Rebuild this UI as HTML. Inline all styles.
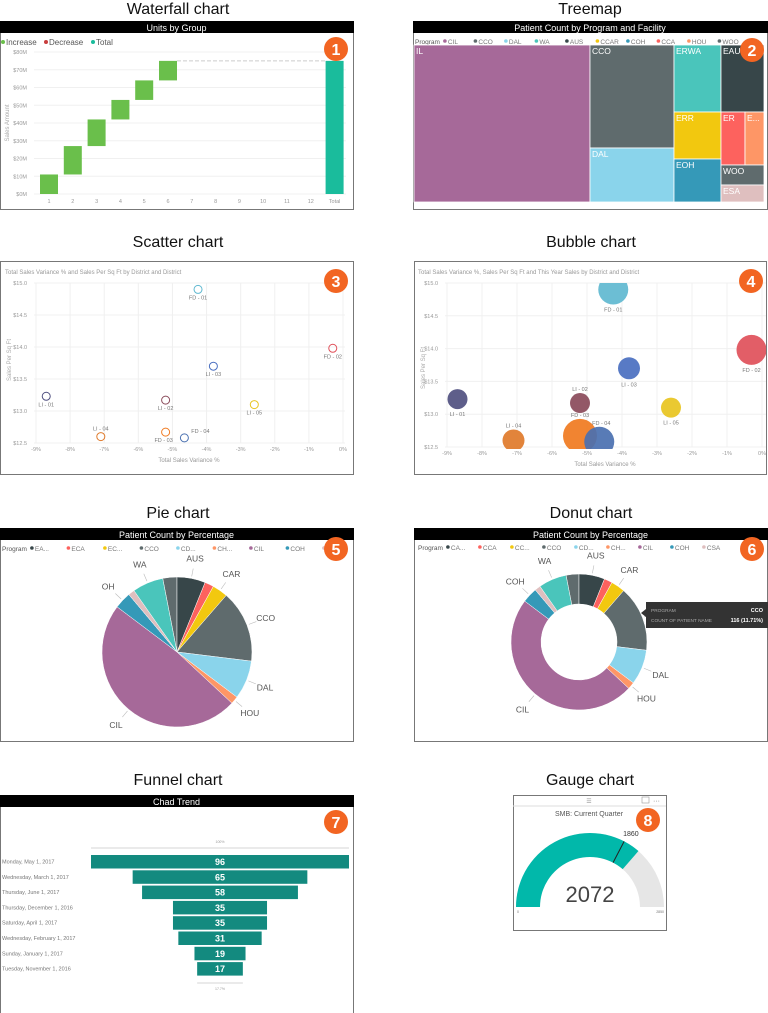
<!DOCTYPE html>
<html><head><meta charset="utf-8"><style>
html,body{margin:0;padding:0;background:#fff;}
svg{display:block;font-family:"Liberation Sans","DejaVu Sans",sans-serif;}
</style></head><body>
<svg id="root" width="768" height="1013" viewBox="0 0 768 1013" xmlns="http://www.w3.org/2000/svg">
<defs>
<clipPath id="bubClip"><rect x="414" y="283" width="352" height="166"/></clipPath>
</defs>
</svg>
<script>
// ---------- data ----------
const wfCats = ['1','2','3','4','5','6','7','8','9','10','11','12','Total'];
const wfDeltas = [11,16,15,11,11,11,0,0,0,0,0,0];
const wfTicks = [0,10,20,30,40,50,60,70,80];

const tmNames = ['IL','CCO','DAL','ERWA','ERR','EOH','EAU','ER','E...','WOO','ESA'];
const tmValues = [27632,8652,4536,3149,2209,2021,2881,1272,1007,860,731];
const tmColumn = [0,1,1,2,2,2,3,3,3,3,3];
const tmRow = [0,0,1,0,1,2,0,1,1,2,3];
const tmColors = ['#a66999','#5f6b6d','#8ad4eb','#4ac5bb','#f2c80f','#3599b8','#374649','#fd625e','#fe9666','#5f6b6d','#dfbfbf'];
const tmLegend = ['CIL','CCO','DAL','WA','AUS','CCAR','COH','CCA','HOU','WOO','C..'];
const tmLegendColors = ['#a66999','#5f6b6d','#8ad4eb','#4ac5bb','#374649','#f2c80f','#3599b8','#fd625e','#fe9666','#5f6b6d','#dfbfbf'];

const scNames = ['FD - 01','FD - 02','LI - 03','LI - 01','LI - 02','LI - 05','LI - 04','FD - 03','FD - 04'];
const scVariance = [-4.25,-0.3,-3.8,-8.7,-5.2,-2.6,-7.1,-5.2,-4.65];
const scSales = [14.9,13.98,13.7,13.23,13.17,13.1,12.6,12.67,12.58];
const scColors = ['#5fb8d0','#e0505a','#4a6fc0','#505080','#8a4a5a','#e8c420','#e07a2a','#f07a20','#4a70b0'];
const bubSize = [225,225,121,100,100,100,121,289,225];
const xTicks = [-9,-8,-7,-6,-5,-4,-3,-2,-1,0];
const yTicks = [12.5,13.0,13.5,14.0,14.5,15.0];

const pieNames = ['', 'AUS','','CAR','CCO','DAL','HOU','CIL','OH','','WA'];
const pieValues = [11,22,7,12,56,30,6,174,13,5,24];
const pieColors = ['#5f6b6d','#374649','#fd625e','#f2c80f','#5f6b6d','#8ad4eb','#fe9666','#a66999','#3599b8','#dfbfbf','#4ac5bb'];
const pieLegend = ['EA...','ECA','EC...','CCO','CD...','CH...','CIL','COH','CS...'];
const donutLegend = ['CA...','CCA','CC...','CCO','CD...','CH...','CIL','COH','CSA'];
const legendColors = ['#374649','#fd625e','#f2c80f','#5f6b6d','#8ad4eb','#fe9666','#a66999','#3599b8','#dfbfbf'];

const fnLabels = ['Monday, May 1, 2017','Wednesday, March 1, 2017','Thursday, June 1, 2017','Thursday, December 1, 2016','Saturday, April 1, 2017','Wednesday, February 1, 2017','Sunday, January 1, 2017','Tuesday, November 1, 2016'];
const fnValues = [96,65,58,35,35,31,19,17];

const gaugeValue = 2072;
const gaugeTarget = 1860;
const gaugeMax = 2850;

// ---------- helpers ----------
const NS='http://www.w3.org/2000/svg';
const root=document.getElementById('root');
function el(tag,attrs,parent,txt){const e=document.createElementNS(NS,tag);for(const k in attrs)e.setAttribute(k,attrs[k]);if(txt!==undefined)e.textContent=txt;(parent||root).appendChild(e);return e;}
function grp(name){const g=el('g',{});

return g;}

// section titles
const titles=[['Waterfall chart',178,14],['Treemap',590,14],['Scatter chart',178,247],['Bubble chart',591,247],['Pie chart',178,518],['Donut chart',591,518],['Funnel chart',178,785],['Gauge chart',590,785]];
titles.forEach(t=>{const e=el('text',{x:t[1],y:t[2],'font-size':16,'text-anchor':'middle',fill:'#111'},null,t[0]);

});

function panel(g,x,y,w,h,header){const r=el('rect',{x:x+0.5,y:y+0.5,width:w,height:h,fill:'#fff',stroke:'#777'},g);


if(header){const b=el('rect',{x:x,y:y,width:w+1,height:12,fill:'#000'},g);


const t=el('text',{x:x+w/2,y:y+10,'font-size':9,'text-anchor':'middle',fill:'#fff'},g,header);

}}
function badge(g,n,cx,cy){const c=el('circle',{cx:cx,cy:cy,r:12,fill:'#f26522'},g);


const t=el('text',{x:cx,y:cy+6,'font-size':16,'font-weight':'bold','text-anchor':'middle',fill:'#fff'},g,String(n));

}
function legend(g,x,y,items,colors,step,prefix){if(prefix){const p=el('text',{x:x,y:y+3,'font-size':6.5,fill:'#555'},g,prefix);

x+=prefix.length*3.7+4;}
items.forEach((it,i)=>{const cx=x+i*step;const c=el('circle',{cx:cx,cy:y,r:1.8,fill:colors[i]},g);


const t=el('text',{x:cx+3,y:y+3,'font-size':6.5,fill:'#777'},g,it);

});}

// ---------- 1 Waterfall ----------
(function(){const g=grp('waterfall-chart');panel(g,0,21,353,188,'Units by Group');
[['Increase','#6abf4b'],['Decrease','#c83d3d'],['Total','#1abc9c']].forEach((l,i)=>{const xs=[3,46,93][i];
const c=el('circle',{cx:xs,cy:42,r:2,fill:l[1]},g);


const t=el('text',{x:xs+3,y:45,'font-size':8,fill:'#555'},g,l[0]);

});
const y=v=>194-v*1.775, x=i=>49+i*23.8;
wfTicks.forEach(v=>{const ln=el('line',{x1:34,x2:346,y1:y(v),y2:y(v),stroke:'#f0f0f0'},g);


const t=el('text',{x:27,y:y(v)+2,'font-size':5.5,'text-anchor':'end',fill:'#999'},g,'$'+v+'M');

});
const yt=el('text',{x:9,y:123,'font-size':6,'text-anchor':'middle',fill:'#aaa',transform:'rotate(-90 9 123)'},g,'Sales Amount');


let cum=0;wfDeltas.forEach((d,i)=>{if(d>0){const b=el('rect',{x:x(i)-9,y:y(cum+d),width:18,height:y(cum)-y(cum+d),fill:'#6abf4b'},g);

}cum+=d;});
const dl=el('line',{x1:x(5)+9,x2:x(12)-9,y1:y(cum),y2:y(cum),stroke:'#ccc','stroke-dasharray':'4 2'},g);


const tb=el('rect',{x:x(12)-9,y:y(cum),width:18,height:y(0)-y(cum),fill:'#1abc9c'},g);


wfCats.forEach((c,i)=>{const t=el('text',{x:x(i),y:203,'font-size':5.5,'text-anchor':'middle',fill:'#999'},g,c);

});
badge(g,1,336,49);})();

// ---------- 2 Treemap ----------
(function(){const g=grp('treemap-chart');panel(g,413,21,354,188,'Patient Count by Program and Facility');
legend(g,415,41,tmLegend,tmLegendColors,30.5,'Program');
const X0=414,Y0=45,W=350,H=157;const total=tmValues.reduce((a,b)=>a+b,0);
const colSum=[0,0,0,0];tmValues.forEach((v,i)=>colSum[tmColumn[i]]+=v);
let cx=X0;const colX=[],colW=[];colSum.forEach((s,c)=>{colX[c]=cx;colW[c]=W*s/total;cx+=colW[c];});
// row sums per column
const rows={};tmValues.forEach((v,i)=>{const k=tmColumn[i]+'_'+tmRow[i];rows[k]=(rows[k]||0)+v;});
const rowY={};colSum.forEach((s,c)=>{let yy=Y0;for(let r=0;r<6;r++){const k=c+'_'+r;if(rows[k]){rowY[k]=[yy,H*rows[k]/s];yy+=H*rows[k]/s;}}});
const rowX={};
tmValues.forEach((v,i)=>{const c=tmColumn[i],k=c+'_'+tmRow[i];const [ry,rh]=rowY[k];
const ox=rowX[k]||0;const w=colW[c]*v/rows[k];rowX[k]=ox+w;
const r=el('rect',{x:colX[c]+ox,y:ry,width:w,height:rh,fill:tmColors[i],stroke:'#fff','stroke-width':0.8},g);


const t=el('text',{x:colX[c]+ox+2,y:ry+9,'font-size':8.5,fill:'#fff'},g,tmNames[i]);

});
badge(g,2,752,50);})();

// ---------- 3 Scatter & 4 Bubble ----------
function axes(g,sx,sy,x0,x1,y0,y1,lblX){xTicks.forEach(v=>{const l=el('line',{x1:sx(v),x2:sx(v),y1:y0,y2:y1,stroke:'#f0f0f0'},g);


const t=el('text',{x:sx(v),y:y1+8,'font-size':5.5,'text-anchor':'middle',fill:'#999'},g,v+'%');

});
yTicks.forEach(v=>{const l=el('line',{x1:x0,x2:x1,y1:sy(v),y2:sy(v),stroke:'#f0f0f0'},g);


const t=el('text',{x:lblX,y:sy(v)+2,'font-size':5.5,'text-anchor':'end',fill:'#999'},g,'$'+v.toFixed(1));

});}
(function(){const g=grp('scatter-chart');panel(g,0,261,353,213);
const tt=el('text',{x:5,y:274,'font-size':6,fill:'#999'},g,'Total Sales Variance % and Sales Per Sq Ft by District and District');


const sx=v=>36+(v+9)/9*307, sy=v=>443-(v-12.5)/2.5*160;
axes(g,sx,sy,34,345,283,443,27);
const xt=el('text',{x:189,y:462,'font-size':6,'text-anchor':'middle',fill:'#999'},g,'Total Sales Variance %');


const yt=el('text',{x:11,y:360,'font-size':6,'text-anchor':'middle',fill:'#aaa',transform:'rotate(-90 11 360)'},g,'Sales Per Sq Ft');


const off=[[0,10],[0,10],[0,10],[0,10],[0,10],[0,10],[0,-6],[-2,10],[16,-5]];
scNames.forEach((n,i)=>{const c=el('circle',{cx:sx(scVariance[i]),cy:sy(scSales[i]),r:4,fill:'none',stroke:scColors[i],'stroke-width':1},g);


const t=el('text',{x:sx(scVariance[i])+off[i][0],y:sy(scSales[i])+off[i][1],'font-size':5.5,'text-anchor':'middle',fill:'#777'},g,n);

});
badge(g,3,336,281);})();
(function(){const g=grp('bubble-chart');panel(g,414,261,352,213);
const tt=el('text',{x:418,y:274,'font-size':6,fill:'#999'},g,'Total Sales Variance %, Sales Per Sq Ft and This Year Sales by District and District');


const sx=v=>447+(v+9)/9*315, sy=v=>447-(v-12.5)/2.5*164;
axes(g,sx,sy,445,766,283,447,438);
const xt=el('text',{x:605,y:466,'font-size':6,'text-anchor':'middle',fill:'#999'},g,'Total Sales Variance %');


const yt=el('text',{x:425,y:368,'font-size':6,'text-anchor':'middle',fill:'#aaa',transform:'rotate(-90 425 368)'},g,'Sales Per Sq Ft');


const bg=el('g',{'clip-path':'url(#bubClip)'},g);
scNames.forEach((n,i)=>{const c=el('circle',{cx:sx(scVariance[i]),cy:sy(scSales[i]),r:Math.sqrt(bubSize[i]),fill:scColors[i],'fill-opacity':0.92},bg);

});
const above=[false,false,false,false,true,false,true,true,true];
scNames.forEach((n,i)=>{const r=Math.sqrt(bubSize[i]);const dx=(i===8)?2:0;
const t=el('text',{x:sx(scVariance[i])+dx,y:above[i]?sy(scSales[i])-r-2:sy(scSales[i])+r+7,'font-size':5.5,'text-anchor':'middle',fill:'#777'},g,n);

});
badge(g,4,751,281);})();

// ---------- 5 Pie & 6 Donut ----------
function pieChart(g,cx,cy,R,r0,labels){const tot=pieValues.reduce((a,b)=>a+b,0);let a=-pieValues[0]/tot*360;
const pt=(ang,rr)=>[cx+rr*Math.sin(ang*Math.PI/180),cy-rr*Math.cos(ang*Math.PI/180)];
pieValues.forEach((v,i)=>{const a1=a+v/tot*360;const p0=pt(a,R),p1=pt(a1,R);const big=(a1-a)>180?1:0;let d;
if(r0>0){const q0=pt(a1,r0),q1=pt(a,r0);d=`M${p0}A${R},${R} 0 ${big} 1 ${p1}L${q0}A${r0},${r0} 0 ${big} 0 ${q1}Z`;}
else d=`M${cx},${cy}L${p0}A${R},${R} 0 ${big} 1 ${p1}Z`;
const s=el('path',{d:d,fill:pieColors[i],stroke:'#fff','stroke-width':0.5},g);


if(labels[i]){const m=(a+a1)/2;const l0=pt(m,R+2),l1=pt(m,R+10);const lp=pt(m,R+20);
const ln=el('line',{x1:l0[0],y1:l0[1],x2:l1[0],y2:l1[1],stroke:'#bbb','stroke-width':0.6},g);


const t=el('text',{x:lp[0],y:lp[1]+3,'font-size':8.5,'text-anchor':'middle',fill:'#555'},g,labels[i]);

}
a=a1;});}
(function(){const g=grp('pie-chart');panel(g,0,528,353,213,'Patient Count by Percentage');
legend(g,2,548,pieLegend,legendColors,36.5,'Program');
pieChart(g,177,652,75,0,pieNames);badge(g,5,336,549);})();
(function(){const g=grp('donut-chart');panel(g,414,528,353,213,'Patient Count by Percentage');
legend(g,418,547,donutLegend,legendColors,32,'Program');
const dn=pieNames.slice();dn[8]='COH';
pieChart(g,579,642,68,38,dn);
const tip=el('rect',{x:646,y:602,width:122,height:26,fill:'#333'},g);


const tp=el('polygon',{points:'646,609 641,613 646,617',fill:'#333'},g);


[['PROGRAM','CCO',612],['COUNT OF PATIENT NAME','116 (11.71%)',622]].forEach(r=>{const a=el('text',{x:651,y:r[2],'font-size':4.8,fill:'#aaa'},g,r[0]);


const b=el('text',{x:763,y:r[2],'font-size':5.5,'font-weight':'bold','text-anchor':'end',fill:'#fff'},g,r[1]);

});
badge(g,6,752,549);})();

// ---------- 7 Funnel ----------
(function(){const g=grp('funnel-chart');panel(g,0,795,353,218,'Chad Trend');
const maxW=258,cx=220,w=v=>v/fnValues[0]*maxW,ry=i=>855+i*15.3;
const tl=el('line',{x1:cx-maxW/2,x2:cx+maxW/2,y1:848,y2:848,stroke:'#aaa','stroke-width':0.6},g);


const tp=el('text',{x:cx,y:843,'font-size':3.5,'text-anchor':'middle',fill:'#999'},g,'100%');


fnValues.forEach((v,i)=>{const b=el('rect',{x:cx-w(v)/2,y:ry(i),width:w(v),height:13.5,fill:'#138a7f'},g);


const t=el('text',{x:cx,y:ry(i)+10,'font-size':9,'font-weight':'bold','text-anchor':'middle',fill:'#fff'},g,String(v));


const l=el('text',{x:2,y:ry(i)+8.5,'font-size':5.5,fill:'#777'},g,fnLabels[i]);

});
const last=fnValues[fnValues.length-1];
const bl=el('line',{x1:cx-w(last)/2,x2:cx+w(last)/2,y1:983,y2:983,stroke:'#aaa','stroke-width':0.6},g);


const bp=el('text',{x:cx,y:990,'font-size':3.5,'text-anchor':'middle',fill:'#999'},g,(last/fnValues[0]*100).toFixed(1)+'%');


badge(g,7,336,822);})();

// ---------- 8 Gauge ----------
(function(){const g=grp('gauge-chart');panel(g,513,795,153,135);
const hl=el('line',{x1:513,x2:666,y1:806,y2:806,stroke:'#ddd'},g);


const dr=el('text',{x:589,y:803,'font-size':6,'text-anchor':'middle',fill:'#999'},g,'☰');


const fm=el('rect',{x:642,y:797,width:7,height:6,fill:'none',stroke:'#999','stroke-width':0.6},g);


const mo=el('text',{x:653,y:803,'font-size':7,fill:'#777'},g,'···');


const tt=el('text',{x:589,y:816,'font-size':7,'text-anchor':'middle',fill:'#555'},g,'SMB: Current Quarter');


const cx=590,cy=907,R=74,r=50;
const pt=(f,rr)=>[cx-rr*Math.cos(f*Math.PI),cy-rr*Math.sin(f*Math.PI)];
const arc=(f0,f1,col,name)=>{const a=pt(f0,R),b=pt(f1,R),c=pt(f1,r),d=pt(f0,r);
const p=el('path',{d:`M${a}A${R},${R} 0 0 1 ${b}L${c}A${r},${r} 0 0 0 ${d}Z`,fill:col},g);

};
arc(0,1,'#e6e6e6','gauge-track');arc(0,gaugeValue/gaugeMax,'#01b8aa','gauge-fill');
const ft=gaugeTarget/gaugeMax;const t0=pt(ft,r),t1=pt(ft,R);
const tl=el('line',{x1:t0[0],y1:t0[1],x2:t1[0],y2:t1[1],stroke:'#222','stroke-width':1},g);


const tlab=pt(ft,R+6);
const tv=el('text',{x:tlab[0]+4,y:tlab[1],'font-size':7,'text-anchor':'middle',fill:'#333'},g,String(gaugeTarget));


const v=el('text',{x:cx,y:902,'font-size':22,'text-anchor':'middle',fill:'#444'},g,String(gaugeValue));


const mn=el('text',{x:cx-R+1,y:913,'font-size':3.5,fill:'#777'},g,'0');


const mx=el('text',{x:cx+R,y:913,'font-size':3.5,'text-anchor':'end',fill:'#777'},g,String(gaugeMax));


badge(g,8,648,820);})();
</script>
</body></html>
